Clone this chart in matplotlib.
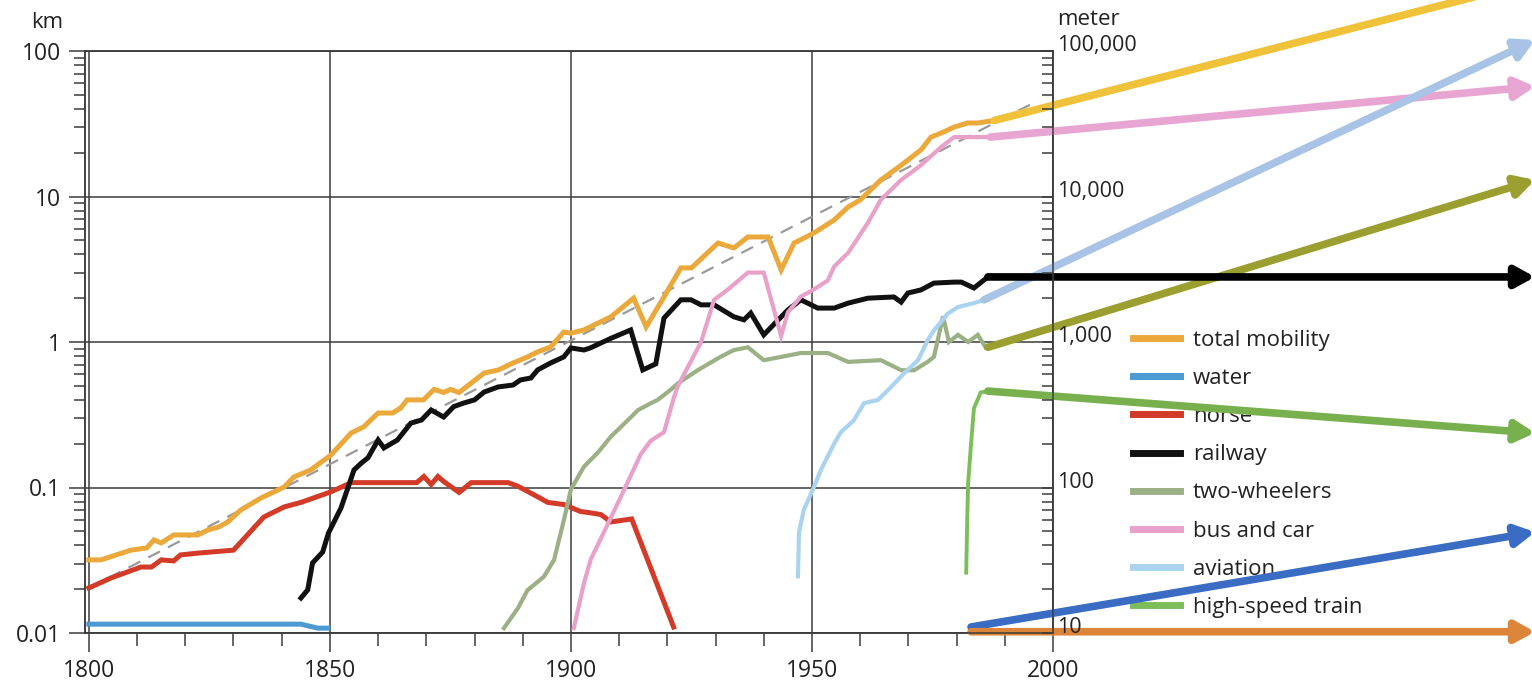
import numpy as np
import matplotlib
matplotlib.use('Agg')
import matplotlib.pyplot as plt
from matplotlib.lines import Line2D
from matplotlib.ticker import LogLocator, NullFormatter

plt.rcParams['font.family'] = ['Open Sans', 'DejaVu Sans']

# km per person per day
total_years = [1800, 1802.5, 1808.7, 1812, 1813.5, 1815, 1817.6, 1822.6, 1824.7, 1827, 1828.8, 1831.5,
               1835.7, 1840.5, 1842.5, 1846, 1850.2, 1854.4, 1857, 1860, 1863, 1864.7, 1866, 1869.4,
               1871.6, 1873.6, 1875, 1876.8, 1882, 1885, 1888, 1891, 1893, 1895.8, 1898.5, 1900,
               1902.7, 1908.3, 1913, 1915.6, 1919.3, 1922.8, 1925, 1930.5, 1933.8, 1936.7, 1940.9,
               1943.6, 1946.3, 1950.4, 1954.6, 1957.5, 1960, 1964.3, 1968.5, 1972.6, 1974.7, 1976.8,
               1979.5, 1982.3, 1984.4, 1987.8]
total_km = [0.0318, 0.0318, 0.0371, 0.0384, 0.0436, 0.0416, 0.0472, 0.0472, 0.0511, 0.0536, 0.058, 0.070,
            0.0847, 0.1007, 0.118, 0.132, 0.167, 0.237, 0.261, 0.325, 0.325, 0.352, 0.40, 0.40,
            0.472, 0.45, 0.472, 0.45, 0.612, 0.643, 0.718, 0.789, 0.853, 0.924, 1.17, 1.15,
            1.21, 1.49, 2.0, 1.27, 2.04, 3.23, 3.23, 4.79, 4.43, 5.27, 5.27,
            3.13, 4.79, 5.61, 6.89, 8.47, 9.46, 13.0, 16.4, 20.9, 25.6, 27.3,
            30.0, 32.0, 32.0, 33.3]

water_years = [1800, 1844, 1847.5, 1849.6]
water_km = [0.0115, 0.0115, 0.0108, 0.0108]

horse_years = [1800, 1804.6, 1810.8, 1813, 1815, 1817.6, 1819, 1823, 1830, 1836.3, 1840.5, 1844, 1850.2,
               1854.4, 1868, 1869.5, 1871, 1872.4, 1873.6, 1876.8, 1879.3, 1887, 1889, 1893, 1895.2,
               1898.5, 1902, 1904, 1906.2, 1908.3, 1912.6, 1921.3]
horse_km = [0.0204, 0.0239, 0.0284, 0.0284, 0.0318, 0.0313, 0.0344, 0.0355, 0.0371, 0.0627, 0.0735, 0.079,
            0.0933, 0.108, 0.108, 0.119, 0.105, 0.119, 0.11, 0.0925, 0.108, 0.108, 0.102, 0.0867, 0.079,
            0.0764, 0.0684, 0.067, 0.0652, 0.058, 0.0608, 0.011]

rail_years = [1844, 1845.4, 1846.4, 1848.5, 1849.7, 1852.3, 1855, 1856.5, 1857.9, 1860, 1861.2, 1864,
              1866.8, 1869, 1871, 1873.6, 1875.7, 1877.8, 1880, 1882, 1884.9, 1888, 1889.5, 1891.7,
              1893.1, 1895.8, 1898.5, 1900, 1902.7, 1904, 1908.3, 1912.4, 1914.9, 1917.6, 1919.3,
              1922.8, 1924.9, 1927, 1929.7, 1933.8, 1935.9, 1937.3, 1940, 1945, 1947.7, 1951.2,
              1954.6, 1957.5, 1961.6, 1967, 1968.5, 1969.9, 1972.6, 1975.3, 1979.5, 1981, 1983.6,
              1985.7, 1986.5]
rail_km = [0.0174, 0.0198, 0.0303, 0.036, 0.0486, 0.0723, 0.132, 0.147, 0.160, 0.212, 0.187, 0.212,
           0.277, 0.291, 0.341, 0.305, 0.360, 0.381, 0.40, 0.453, 0.491, 0.506, 0.548, 0.566,
           0.643, 0.718, 0.789, 0.91, 0.881, 0.91, 1.06, 1.21, 0.643, 0.707, 1.46,
           1.95, 1.95, 1.80, 1.80, 1.49, 1.42, 1.58, 1.12, 1.66, 1.95, 1.71,
           1.71, 1.85, 2.0, 2.04, 1.88, 2.17, 2.28, 2.54, 2.58, 2.58, 2.35,
           2.67, 2.80]

bike_years = [1886.1, 1889, 1891, 1894.4, 1896.5, 1898.5, 1900, 1902.7, 1905.6, 1908.3, 1911.8, 1913.9,
              1916.6, 1918, 1920.7, 1922.2, 1926.3, 1931, 1933.8, 1936.7, 1940, 1943.6, 1947.7, 1953.3,
              1957.5, 1964.3, 1968.5, 1971.2, 1974, 1975.3, 1977.2, 1978.4, 1980.3, 1982.4, 1984.4, 1986]
bike_km = [0.0108, 0.0148, 0.0197, 0.0244, 0.0318, 0.059, 0.097, 0.139, 0.174, 0.224, 0.29, 0.34,
           0.38, 0.40, 0.47, 0.52, 0.64, 0.79, 0.88, 0.92, 0.75, 0.79, 0.84, 0.84,
           0.73, 0.75, 0.64, 0.64, 0.73, 0.79, 1.5, 1.0, 1.12, 1.0, 1.12, 0.92]

car_years = [1900.6, 1902.7, 1904.1, 1906.8, 1910.4, 1914.5, 1916.6, 1919.3, 1921.4, 1922.2, 1927, 1929.7,
             1932.6, 1936.7, 1940, 1943.6, 1945, 1947.7, 1950.4, 1953.3, 1954.6, 1957.5, 1961.6, 1964.3,
             1968.5, 1972.6, 1976.8, 1979.5, 1987]
car_km = [0.0108, 0.022, 0.032, 0.049, 0.087, 0.17, 0.21, 0.24, 0.42, 0.5, 1.0, 1.95,
          2.3, 3.0, 3.0, 1.1, 1.6, 2.05, 2.3, 2.65, 3.3, 4.1, 6.6, 9.5,
          13.0, 16.4, 21.9, 25.6, 25.6]

air_years = [1947.1, 1947.3, 1948.3, 1950.2, 1951.9, 1954.6, 1956, 1958.7, 1960.8, 1963.7, 1966.4, 1969.1,
             1972, 1974, 1975.3, 1978.2, 1980.3, 1983.6, 1985.7]
air_km = [0.0245, 0.049, 0.07, 0.097, 0.133, 0.2, 0.24, 0.29, 0.38, 0.40, 0.49, 0.61,
          0.75, 1.03, 1.2, 1.57, 1.74, 1.85, 1.95]

hst_years = [1982, 1982.2, 1982.4, 1983, 1983.6, 1985, 1986.5]
hst_km = [0.026, 0.06, 0.108, 0.2, 0.35, 0.45, 0.46]

trend_years = [1800, 1996]
trend_km = [0.0204, 44]

series = [
    ('total mobility', total_years, total_km, '#EBA93B', 3.6),
    ('water', water_years, water_km, '#4B9AD2', 3.6),
    ('horse', horse_years, horse_km, '#D33A27', 3.6),
    ('railway', rail_years, rail_km, '#111111', 3.6),
    ('two-wheelers', bike_years, bike_km, '#9BB084', 3.0),
    ('bus and car', car_years, car_km, '#E9A0C9', 3.0),
    ('aviation', air_years, air_km, '#A9D3EF', 3.0),
    ('high-speed train', hst_years, hst_km, '#7DBE5B', 2.8),
]

# projections to 2100
proj_end_year = 2100
proj_start_year = [1987.8, 1987.0, 1985.7, 1986.5, 1986.5, 1986.5, 1983.0, 1983.0]
proj_start_km = [33.3, 25.6, 1.95, 0.92, 2.8, 0.46, 0.011, 0.0102]
proj_end_km = [302, 57, 119, 13, 2.8, 0.237, 0.0494, 0.0102]
proj_colors = ['#EFC23A', '#E8A5D2', '#A8C3E5', '#9A9F30', '#000000', '#79B04E', '#3A6CC4', '#DC8438']

W, H = 1532, 686
fig = plt.figure(figsize=(W / 100, H / 100), dpi=100)
ax = fig.add_axes([85 / W, 53 / H, 968 / W, 582 / H])
ax.set_yscale('log')
ax.set_xlim(1799.2, 2000)
ax.set_ylim(0.01, 100)

edge = '#3c3c3c'
for s in ax.spines.values():
    s.set_color(edge)
    s.set_linewidth(1.1)
ax.grid(True, which='major', color=edge, lw=1.1)
ax.set_axisbelow(True)

ax.set_xticks([1800, 1850, 1900, 1950, 2000])
ax.set_xticks(np.arange(1800, 2001, 10), minor=True)
ax.set_yticks([0.01, 0.1, 1, 10, 100])
ax.set_yticklabels(['0.01', '0.1', '1', '10', '100'])
ax.yaxis.set_minor_locator(LogLocator(base=10, subs=np.arange(2, 10)))
ax.yaxis.set_minor_formatter(NullFormatter())
ax.tick_params(axis='x', which='major', length=14, width=1.1, pad=5, labelsize=16.5, color=edge, labelcolor='#222')
ax.tick_params(axis='x', which='minor', length=9, width=1.1, color=edge)
ax.tick_params(axis='y', which='major', length=11.5, width=1.1, pad=6, labelsize=16.5, color=edge, labelcolor='#222')
ax.tick_params(axis='y', which='minor', length=8, width=1.1, color=edge)

ax2 = ax.twinx()
ax2.set_yscale('log')
ax2.set_ylim(10, 100000)
ax2.set_yticks([10, 100, 1000, 10000, 100000])
ax2.set_yticklabels(['10', '100', '1,000', '10,000', '100,000'])
ax2.yaxis.set_minor_locator(LogLocator(base=10, subs=np.arange(2, 10)))
ax2.yaxis.set_minor_formatter(NullFormatter())
ax2.tick_params(axis='y', which='both', direction='in', length=8, width=1.1, pad=3,
                labelsize=15.5, color=edge, labelcolor='#222')
for lbl in ax2.get_yticklabels():
    lbl.set_verticalalignment('baseline')
for s in ax2.spines.values():
    s.set_color(edge)
    s.set_linewidth(1.1)

ax.plot(trend_years, trend_km, color='#9a9a9a', lw=1.6, dashes=(6, 4), zorder=2.5)
for name, xs, ys, c, lw in series:
    ax.plot(xs, ys, color=c, lw=lw, solid_joinstyle='miter', zorder=3)

for sy, sv, ev, c in zip(proj_start_year, proj_start_km, proj_end_km, proj_colors):
    ax.annotate('', xy=(proj_end_year, ev), xytext=(sy, sv),
                arrowprops=dict(arrowstyle='-|>,head_length=0.4,head_width=0.22', color=c, lw=5.5,
                                shrinkA=0, shrinkB=0, mutation_scale=28),
                annotation_clip=False, zorder=10)

handles = [Line2D([], [], color=c, lw=5) for _, _, _, c, _ in series]
labels = [name for name, _, _, _, _ in series]
leg = ax.legend(handles, labels, loc='upper left', bbox_to_anchor=(1133 / W, 1 - 330 / H),
                bbox_transform=fig.transFigure, frameon=False, fontsize=16, handlelength=2.1,
                handletextpad=0.6, labelspacing=0.77, borderpad=0, borderaxespad=0)
for t in leg.get_texts():
    t.set_color('#222')
leg.set_zorder(1)

fig.text(47 / W, 1 - 28 / H, 'km', ha='center', va='baseline', fontsize=16, color='#222')
fig.text(1057 / W, 1 - 25 / H, 'meter', ha='left', va='baseline', fontsize=16, color='#222')

fig.savefig('out.png', dpi=100)
